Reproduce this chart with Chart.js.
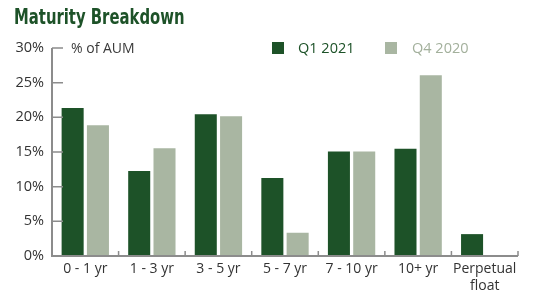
<!DOCTYPE html>
<html>
<head>
<meta charset="utf-8">
<script src="https://cdn.jsdelivr.net/npm/chart.js@4.4.1/dist/chart.umd.min.js"></script>
<style>
  html, body { margin: 0; padding: 0; background: #ffffff; }
  #wrap { position: relative; width: 544px; height: 300px; overflow: hidden; }
  canvas { position: absolute; left: 0; top: 0; }
  .txt { position: absolute; white-space: nowrap; }
  #title { left: 14px; top: 4px; font-family: "DejaVu Sans Condensed", "Liberation Sans Narrow", sans-serif; font-weight: bold; font-size: 22px; line-height: 26px; color: #1d5228; transform: scaleX(0.75); transform-origin: 0 0; }
  #unit { left: 71px; top: 38px; font-family: "Open Sans", sans-serif; font-size: 14px; line-height: 20px; color: #3a3a3a; }
  .leg { position: absolute; top: 38px; height: 20px; font-family: "Open Sans", sans-serif; font-size: 14.5px; line-height: 20px; }
  .leg .sw { position: absolute; left: 0; top: 4px; width: 12px; height: 12px; }
  .leg .lb { position: absolute; white-space: nowrap; }
</style>
</head>
<body>
<div id="wrap">
  <canvas id="c" width="544" height="300"></canvas>
  <div id="title" class="txt">Maturity Breakdown</div>
  <div id="unit" class="txt">% of AUM</div>
  <div id="legend"></div>
</div>
<script>
// ---- data ----
const categories = ['0 - 1 yr', '1 - 3 yr', '3 - 5 yr', '5 - 7 yr', '7 - 10 yr', '10+ yr', ['Perpetual', 'float']];
const seriesNames = ['Q1 2021', 'Q4 2020'];
const q1_2021 = [21.5, 12.4, 20.6, 11.4, 15.2, 15.6, 3.3];
const q4_2020 = [19.0, 15.7, 20.3, 3.5, 15.2, 26.2, 0];
const yTickValues = [0, 5, 10, 15, 20, 25, 30];

// ---- styles ----
const colQ1 = '#1d5228';
const colQ4 = '#a9b6a2';
const legendTextColors = ['#1d5228', '#a3b09c'];
const axisColor = '#8c8c8c';

const axesPlugin = {
  id: 'customAxes',
  afterDatasetsDraw(chart) {
    const ctx = chart.ctx;
    const xs = chart.scales.x, ys = chart.scales.y;
    const left = xs.left, right = xs.right;
    const bottom = ys.getPixelForValue(0);
    const top = ys.getPixelForValue(yTickValues[yTickValues.length - 1]);
    ctx.save();
    ctx.strokeStyle = axisColor;
    ctx.lineWidth = 2;
    ctx.beginPath();
    ctx.moveTo(left, top);
    ctx.lineTo(left, bottom);
    ctx.lineTo(right, bottom);
    ctx.stroke();
    ctx.lineWidth = 1.5;
    ctx.beginPath();
    yTickValues.forEach(v => {
      const y = ys.getPixelForValue(v);
      ctx.moveTo(left, y);
      ctx.lineTo(left + 11, y);
    });
    const n = categories.length;
    const cw = (right - left) / n;
    for (let k = 1; k <= n; k++) {
      const x = left + k * cw;
      ctx.moveTo(x, bottom);
      ctx.lineTo(x, bottom - 5);
    }
    ctx.stroke();
    ctx.restore();
  }
};

const chart = new Chart(document.getElementById('c'), {
  type: 'bar',
  data: {
    labels: categories,
    datasets: [
      { label: seriesNames[0], data: q1_2021, backgroundColor: colQ1, borderColor: 'rgba(255,255,255,0.45)', borderWidth: 1 },
      { label: seriesNames[1], data: q4_2020, backgroundColor: colQ4, borderColor: 'rgba(255,255,255,0.45)', borderWidth: 1 }
    ]
  },
  options: {
    responsive: false,
    animation: false,
    devicePixelRatio: 1,
    layout: { padding: { top: 48, right: 26, bottom: 0, left: 0 } },
    plugins: { legend: { display: false }, title: { display: false }, tooltip: { enabled: false } },
    datasets: { bar: { categoryPercentage: 0.76, barPercentage: 0.95 } },
    scales: {
      x: {
        grid: { display: false, drawTicks: false },
        border: { display: false },
        ticks: { color: '#333333', font: { family: 'Open Sans', size: 14 }, padding: 5, maxRotation: 0, autoSkip: false },
        afterFit(scale) { scale.height = 44; }
      },
      y: {
        min: 0, max: 30,
        grid: { display: false, drawTicks: false },
        border: { display: false },
        ticks: { stepSize: 5, color: '#333333', font: { family: 'Open Sans', size: 14.5 }, padding: 8, callback: v => v + '%' },
        afterFit(scale) { scale.width = 52; }
      }
    }
  },
  plugins: [axesPlugin]
});

// legend (HTML text)
const legendPos = [272, 385];
const legend = document.getElementById('legend');
chart.data.datasets.forEach((ds, i) => {
  const d = document.createElement('div');
  d.className = 'leg';
  d.style.left = legendPos[i] + 'px';
  const sw = document.createElement('div');
  sw.className = 'sw';
  sw.style.background = ds.backgroundColor;
  const lb = document.createElement('div');
  lb.className = 'lb';
  lb.style.left = (i === 0 ? 26 : 27) + 'px';
  lb.style.color = legendTextColors[i];
  lb.textContent = ds.label;
  d.appendChild(sw); d.appendChild(lb);
  legend.appendChild(d);
});
</script>
</body>
</html>
